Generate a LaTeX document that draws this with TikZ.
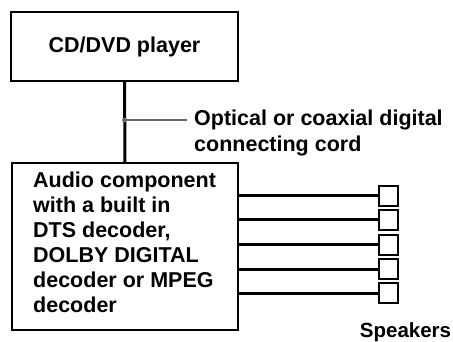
\documentclass[tikz,border=0pt]{standalone}
\usepackage{fontspec}
\setmainfont{Liberation Sans}
\usetikzlibrary{positioning}

\begin{document}
\begin{tikzpicture}
	[x=1pt,y=-1pt,line cap=butt,
	%Styles
	unit box/.style={draw,line width=1.4pt,inner sep=0pt},
	label text/.style={font=\fontsize{21.5}{25}\selectfont\bfseries,align=left,inner sep=0pt},
	cord/.style={line width=3pt},
	info line/.style={gray!80!black,line width=1.4pt},
	speaker/.style={draw,line width=1.9pt,minimum width=19pt,minimum height=20pt,inner sep=0pt}
	]
	
	\useasboundingbox (0,0) rectangle (453,342);
	
	%The graphic
	\node[unit box,minimum width=227pt,minimum height=69pt,label text,align=center] (player) at (124.5,46.5) {CD/DVD player};
	\node[unit box,minimum width=226pt,minimum height=167pt] (audio) at (125,246.5) {};
	\node[label text,anchor=north west] (audiotext) at (33,171.5)
		{Audio component\\with a built in\\DTS decoder,\\DOLBY DIGITAL\\decoder or MPEG\\decoder};
	
	\draw[cord] (player.south) -- (audio.north);
	
	\coordinate (tap) at (124.5,120);
	\fill[gray!80!black] (tap) circle (2.4pt);
	\node[label text,anchor=north west,font=\fontsize{21.5}{25.5}\selectfont\bfseries] (cordtext) at (194,110) {Optical or coaxial digital\\connecting cord};
	\draw[info line] (tap) -- (187,120);
	
	\foreach \i/\y in {1/196,2/220,3/245,4/269,5/293}{
		\node[speaker,anchor=west] (spk\i) at (378,\y) {};
		\draw[cord] (audio.east |- spk\i.west) -- (spk\i.west);
	}
	\node[label text,anchor=base,font=\fontsize{20.5}{25}\selectfont\bfseries] (spklabel) at (405.5,337) {Speakers};
\end{tikzpicture}
\end{document}
